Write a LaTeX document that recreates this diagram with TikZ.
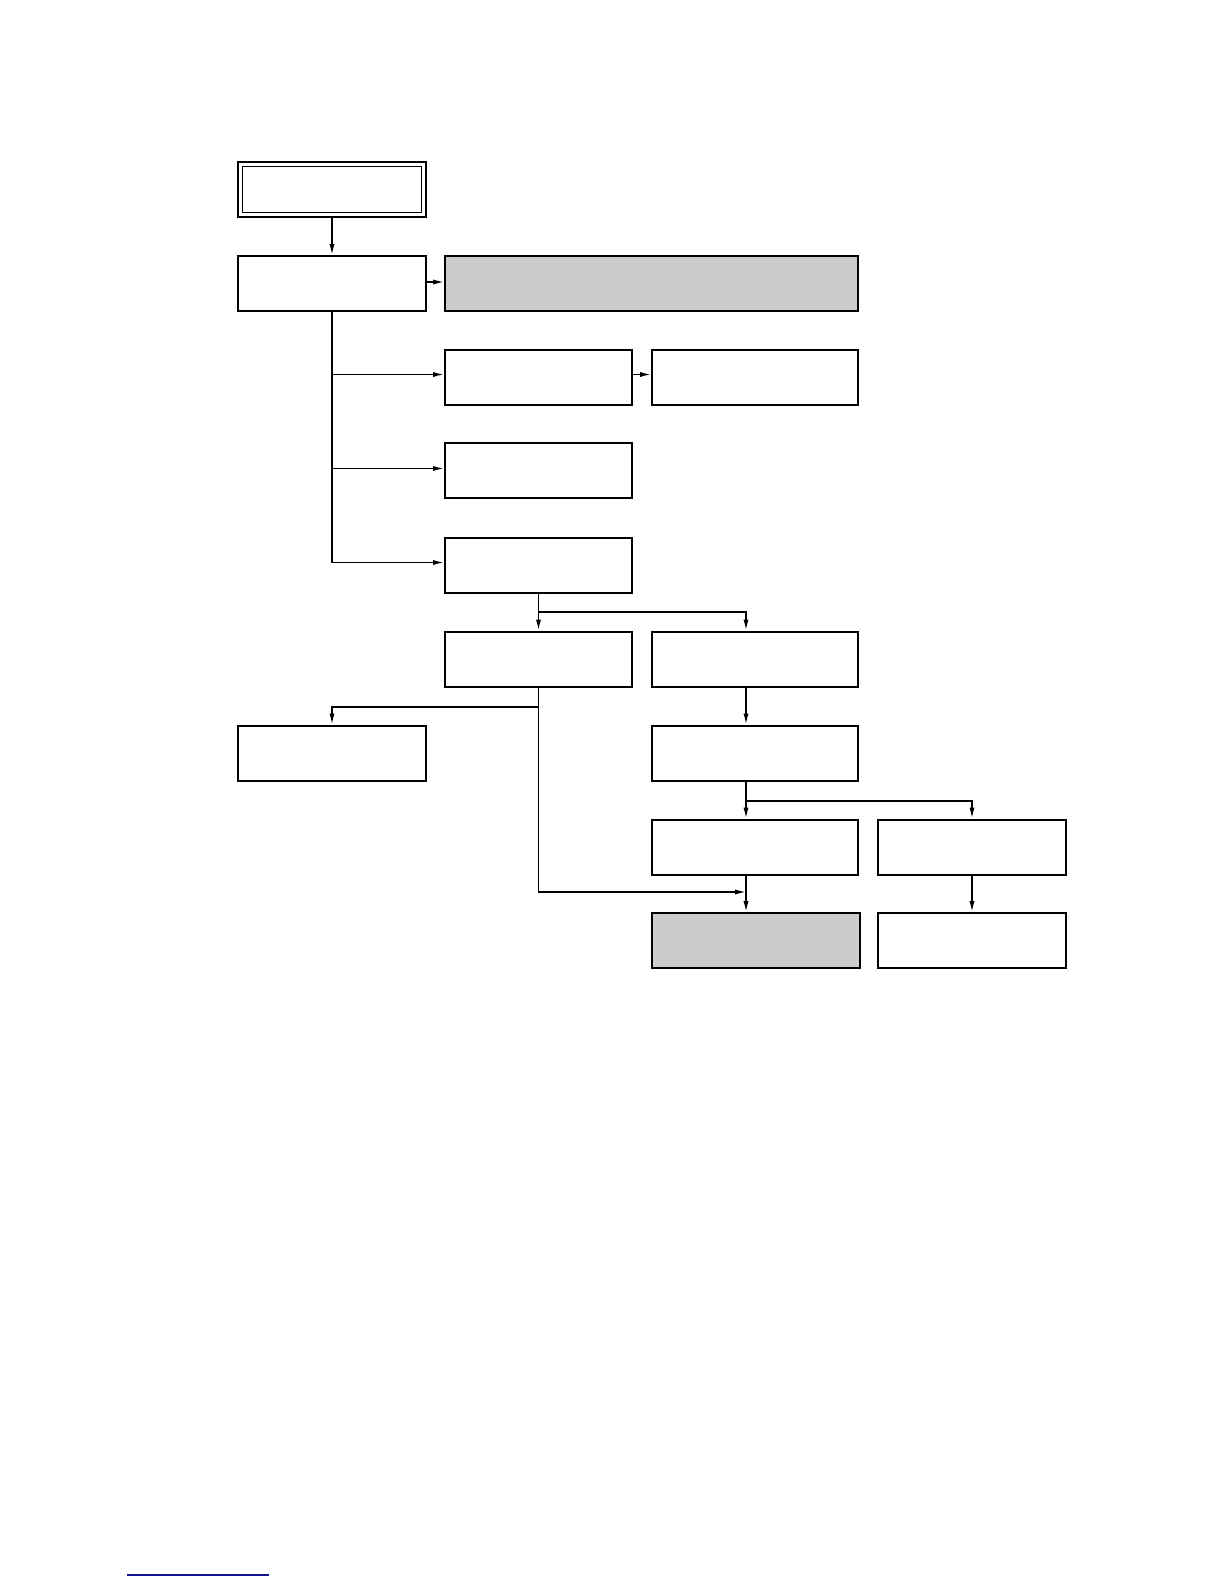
\documentclass[tikz,border=0pt]{standalone}
\usetikzlibrary{arrows.meta, calc}
\definecolor{boxGray}{RGB}{204,204,204}
\definecolor{linkColor}{RGB}{20,20,140}

\tikzset{
  stepBox/.style={draw, line width=1pt, minimum height=27.5pt, inner sep=0pt},
  link/.style={line width=0.75pt, -{Latex[length=5.5pt, width=2.6pt]}},
  joint/.style={line width=0.75pt}
}

\begin{document}
\begin{tikzpicture}[x=0.5pt, y=-0.5pt]
                \useasboundingbox (0,0) rectangle (1224,1584);

                % Cajas superiores
                \node[stepBox, minimum width=94pt] (top) at (332,189.5) {};
                \draw[line width=0.5pt] ([shift={(5.5,5.5)}]top.north west) rectangle ([shift={(-5.5,-5.5)}]top.south east);
                \node[stepBox, minimum width=94pt] (start) at (332,283.5) {};
                \node[stepBox, fill=boxGray, minimum width=206.5pt] (warn) at (651.5,283.5) {};

                % Columna central
                \node[stepBox, minimum width=93.5pt] (checkA) at (538.5,377.5) {};
                \node[stepBox, minimum width=103pt] (checkB) at (755,377.5) {};
                \node[stepBox, minimum width=93.5pt] (checkC) at (538.5,470) {};
                \node[stepBox, minimum width=93.5pt] (check) at (538.5,565) {};

                % Ramas inferiores
                \node[stepBox, minimum width=93.5pt] (left) at (538.5,659) {};
                \node[stepBox, minimum width=103pt] (right) at (755,659) {};
                \node[stepBox, minimum width=94pt] (aside) at (332,753) {};
                \node[stepBox, minimum width=103pt] (next) at (755,753) {};
                \node[stepBox, minimum width=103pt] (passA) at (755,847) {};
                \node[stepBox, minimum width=94pt] (passB) at (972,847) {};
                \node[stepBox, fill=boxGray, minimum width=104pt] (endA) at (756,940.5) {};
                \node[stepBox, minimum width=94pt] (endB) at (972,940.5) {};

                % Puntos de reparto
                \coordinate (hx) at (746,0);
                \coordinate (checkSplit) at (538.5,612);
                \coordinate (leftSplit) at (538.5,707);
                \coordinate (nextSplit) at (746,801);
                \coordinate (endJoin) at (746,892);

                % Conectores
                \draw[link] (top) -- (start);
                \draw[link] ([yshift=0.75pt]start.east) -- ([yshift=0.75pt]warn.west);
                \draw[link] (start.south) |- ([yshift=1.25pt]check.west);
                \draw[link] (start.south |- checkA.west) ++(0,-3) -- ([yshift=1.5pt]checkA.west);
                \draw[link] (start.south |- checkC.west) ++(0,-1.5) -- ([yshift=0.75pt]checkC.west);
                \draw[link] ([yshift=1.5pt]checkA.east) -- ([yshift=1.5pt]checkB.west);

                \draw[link] (check) -- (left);
                \draw[link] (checkSplit) -| (hx |- right.north);
                \draw[joint] (left.south) -- (leftSplit);
                \draw[link] (leftSplit) -| (aside.north);
                \draw[link] (leftSplit) |- (endJoin);

                \draw[link] (hx |- right.south) -- (hx |- next.north);
                \draw[link] (hx |- next.south) -- (hx |- passA.north);
                \draw[link] (nextSplit) -| (passB.north);
                \draw[link] (hx |- passA.south) -- (hx |- endA.north);
                \draw[link] (passB) -- (endB);

                % Subrayado al pie
                \draw[linkColor, line width=0.75pt] (127,1575) -- (269,1575);
            \end{tikzpicture}
\end{document}
